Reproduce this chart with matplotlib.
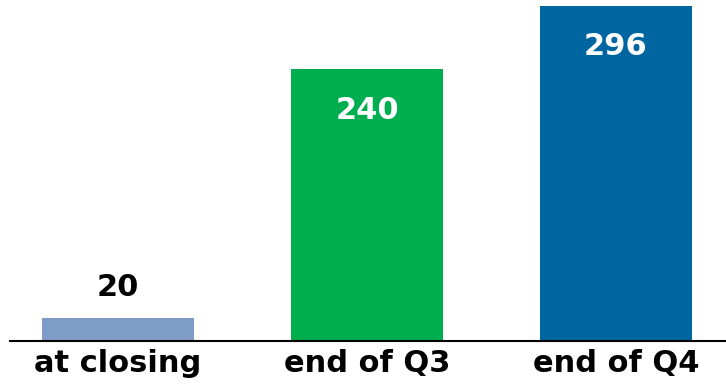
import matplotlib
matplotlib.use("Agg")
import matplotlib.pyplot as plt

categories = ["at closing", "end of Q3", "end of Q4"]
values = [20, 240, 296]
colors = ["#7f9cc9", "#00ad4f", "#0066a1"]

plt.rcParams["font.family"] = "DejaVu Sans"
plt.rcParams["font.weight"] = "bold"

fig = plt.figure(figsize=(7.26, 3.85), dpi=100)
ax = fig.add_axes([10 / 726, 1 - 341 / 385, 716 / 726, 341 / 385])

x = range(len(categories))
bars = ax.bar(x, values, width=0.61, color=colors)

ax.set_xlim(-0.434, 2.442)
ax.set_ylim(0, 296 * 341 / 335)

for b, v in zip(bars, values):
    cx = b.get_x() + b.get_width() / 2
    if v < 100:
        ax.annotate(str(v), (cx, v), xytext=(0, 12), textcoords="offset points",
                    ha="center", va="bottom", fontsize=22, fontweight="bold", color="black")
    else:
        ax.annotate(str(v), (cx, v), xytext=(0, -19), textcoords="offset points",
                    ha="center", va="top", fontsize=22, fontweight="bold", color="white")

ax.set_xticks(list(x))
ax.set_xticklabels(categories, fontsize=22, fontweight="bold")
ax.tick_params(axis="x", length=0, pad=6)
ax.set_yticks([])
for s in ["top", "left", "right"]:
    ax.spines[s].set_visible(False)
ax.spines["bottom"].set_linewidth(1.5)

fig.savefig("out.png", dpi=100)
